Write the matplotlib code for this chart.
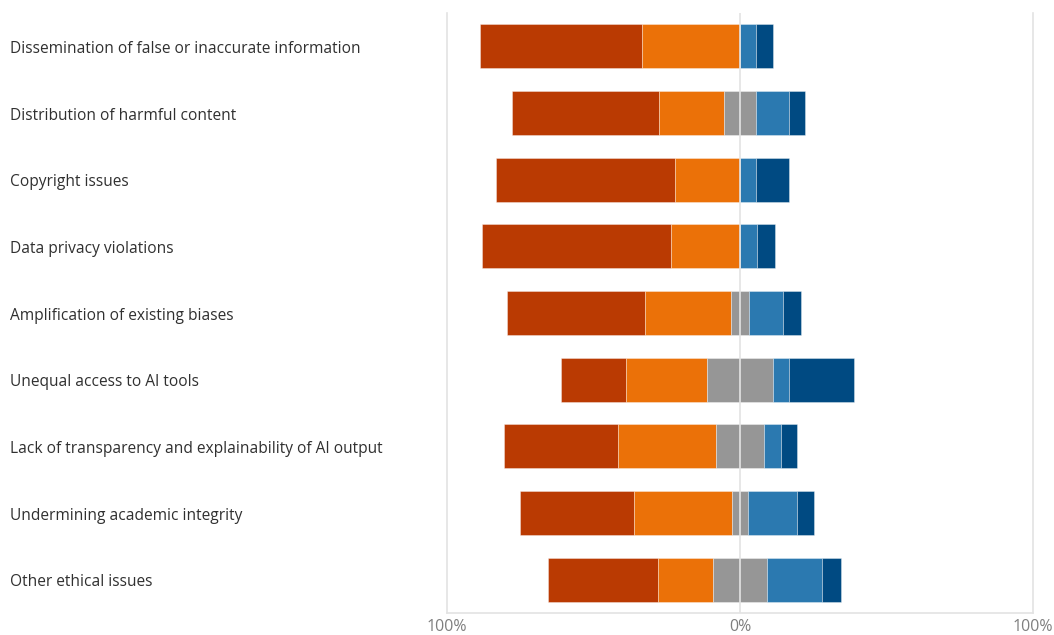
import matplotlib
matplotlib.use("Agg")
import matplotlib.pyplot as plt
import matplotlib.transforms as mtransforms
import numpy as np

categories = [
    "Dissemination of false or inaccurate information",
    "Distribution of harmful content",
    "Copyright issues",
    "Data privacy violations",
    "Amplification of existing biases",
    "Unequal access to AI tools",
    "Lack of transparency and explainability of AI output",
    "Undermining academic integrity",
    "Other ethical issues",
]
# shares in percent, per response level
very_concerned = [55.6, 50.0, 61.1, 64.7, 47.1, 22.2, 38.9, 38.9, 37.5]
concerned      = [33.3, 22.2, 22.2, 23.5, 29.4, 27.8, 33.3, 33.3, 18.75]
neutral        = [0.0, 11.1, 0.0, 0.0, 5.9, 22.2, 16.7, 5.6, 18.75]
not_concerned  = [5.6, 11.1, 5.6, 5.9, 11.8, 5.6, 5.6, 16.7, 18.75]
not_at_all     = [5.6, 5.6, 11.1, 5.9, 5.9, 22.2, 5.6, 5.6, 6.25]

tick_values = [-100, 0, 100]
tick_labels = ["100%", "0%", "100%"]

colors = ["#BA3A02", "#EB7108", "#969696", "#2B79B0", "#004A82"]

plt.rcParams['font.family'] = ['Open Sans', 'DejaVu Sans']

fig = plt.figure(figsize=(10.54, 6.35), dpi=100)
ax = fig.add_axes([447/1054, 22/635, (1033-447)/1054, (613-12.8)/635])

vc = np.array(very_concerned)
c = np.array(concerned)
n = np.array(neutral)
nc = np.array(not_concerned)
na = np.array(not_at_all)
y = np.arange(len(categories))

start = -(vc + c + n / 2)
segments = [vc, c, n, nc, na]
left = start.copy()
for seg, col in zip(segments, colors):
    ax.barh(y, seg, left=left, height=0.66, color=col,
            edgecolor=(1, 1, 1, 0.35), linewidth=0.7, zorder=2)
    left = left + seg

ax.axvline(0, color="#E3E3E3", linewidth=1.2, zorder=3)

ax.set_xlim(-100, 100)
ax.set_ylim(len(categories) - 0.5, -0.5)
ax.set_xticks(tick_values)
ax.set_xticklabels(tick_labels, color="#7F7F7F", fontsize=11.5)
ax.tick_params(axis='x', length=0, pad=4)
ax.set_yticks([])

for side in ["left", "right", "bottom"]:
    ax.spines[side].set_color("#E3E3E3")
    ax.spines[side].set_linewidth(1.2)
ax.spines["top"].set_visible(False)

trans = mtransforms.blended_transform_factory(fig.transFigure, ax.transData)
for yi, lab in zip(y, categories):
    ax.text(10/1054, yi + 0.04, lab, transform=trans, ha="left", va="center",
            fontsize=11.2, color="#303030")

fig.savefig("out.png", dpi=100)
